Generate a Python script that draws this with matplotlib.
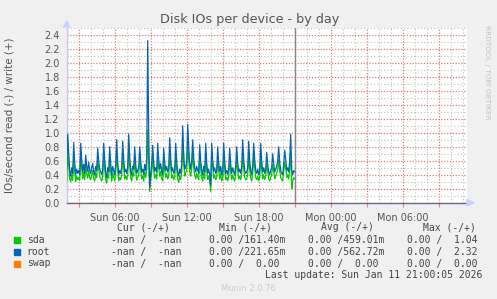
import numpy as np
import matplotlib
matplotlib.use("Agg")
import matplotlib.pyplot as plt
from matplotlib.patches import Rectangle, Polygon
from matplotlib.ticker import MultipleLocator, FixedLocator

# hours since Sun 00:00, one sample every 5 minutes from 02:00 to 21:00
START_HOUR = 2.0
STEP_HOURS = 5 / 60

# write IOs/s (read side is zero over the whole period)
sda = [
    0.30, 0.75, 0.55, 0.34, 0.30, 0.40, 0.32, 0.62, 0.45, 0.30, 0.38, 0.33,
    0.36, 0.32, 0.65, 0.50, 0.34, 0.44, 0.33, 0.55, 0.42, 0.35, 0.46, 0.36,
    0.33, 0.40, 0.46, 0.35, 0.31, 0.42, 0.36, 0.62, 0.48, 0.38, 0.34, 0.31,
    0.38, 0.66, 0.50, 0.33, 0.28, 0.40, 0.35, 0.64, 0.45, 0.31, 0.42, 0.36,
    0.31, 0.44, 0.70, 0.47, 0.31, 0.36, 0.33, 0.40, 0.68, 0.50, 0.34, 0.38,
    0.33, 0.40, 0.76, 0.53, 0.35, 0.31, 0.42, 0.38, 0.62, 0.44, 0.32, 0.36,
    0.40, 0.62, 0.48, 0.34, 0.38, 0.31, 0.44, 0.36, 0.48, 1.04, 0.60, 0.16,
    0.33, 0.44, 0.64, 0.46, 0.35, 0.40, 0.34, 0.66, 0.50, 0.38, 0.45, 0.34,
    0.31, 0.60, 0.46, 0.36, 0.42, 0.34, 0.38, 0.72, 0.52, 0.35, 0.40, 0.33,
    0.36, 0.66, 0.48, 0.34, 0.29, 0.38, 0.33, 0.44, 0.85, 0.56, 0.38, 0.42,
    0.47, 0.86, 0.62, 0.45, 0.38, 0.48, 0.70, 0.51, 0.40, 0.34, 0.42, 0.36,
    0.33, 0.64, 0.48, 0.36, 0.31, 0.42, 0.34, 0.66, 0.46, 0.33, 0.38, 0.31,
    0.16, 0.66, 0.50, 0.35, 0.40, 0.33, 0.36, 0.62, 0.46, 0.34, 0.42, 0.31,
    0.34, 0.66, 0.48, 0.33, 0.36, 0.31, 0.38, 0.60, 0.44, 0.33, 0.40, 0.34,
    0.31, 0.42, 0.62, 0.46, 0.34, 0.38, 0.33, 0.40, 0.70, 0.50, 0.36, 0.33,
    0.34, 0.40, 0.68, 0.48, 0.35, 0.31, 0.42, 0.66, 0.50, 0.36, 0.33, 0.38,
    0.31, 0.36, 0.66, 0.48, 0.34, 0.40, 0.33, 0.38, 0.56, 0.44, 0.34, 0.31,
    0.36, 0.40, 0.55, 0.45, 0.34, 0.38, 0.42, 0.48, 0.62, 0.46, 0.36, 0.33,
    0.31, 0.44, 0.58, 0.50, 0.36, 0.40, 0.34, 0.48, 0.72, 0.20, 0.31, 0.36,
    0.34,
]
root = [
    0.50, 0.98, 0.72, 0.45, 0.38, 0.50, 0.42, 0.86, 0.58, 0.40, 0.48, 0.42,
    0.46, 0.40, 0.85, 0.62, 0.44, 0.55, 0.42, 0.68, 0.52, 0.45, 0.58, 0.46,
    0.42, 0.50, 0.56, 0.44, 0.40, 0.52, 0.46, 0.78, 0.60, 0.48, 0.44, 0.40,
    0.48, 0.85, 0.62, 0.42, 0.36, 0.50, 0.44, 0.80, 0.56, 0.40, 0.52, 0.46,
    0.40, 0.55, 0.90, 0.58, 0.40, 0.46, 0.42, 0.50, 0.88, 0.62, 0.44, 0.48,
    0.42, 0.50, 0.98, 0.66, 0.45, 0.40, 0.52, 0.48, 0.80, 0.55, 0.42, 0.46,
    0.50, 0.80, 0.60, 0.44, 0.48, 0.40, 0.55, 0.46, 0.60, 2.32, 1.00, 0.22,
    0.42, 0.55, 0.82, 0.58, 0.45, 0.50, 0.44, 0.85, 0.62, 0.48, 0.56, 0.44,
    0.40, 0.78, 0.58, 0.46, 0.52, 0.44, 0.48, 0.93, 0.64, 0.45, 0.50, 0.42,
    0.46, 0.85, 0.60, 0.44, 0.38, 0.48, 0.42, 0.55, 1.10, 0.70, 0.48, 0.52,
    0.58, 1.12, 0.80, 0.56, 0.48, 0.60, 0.90, 0.64, 0.50, 0.44, 0.52, 0.46,
    0.42, 0.83, 0.60, 0.46, 0.40, 0.52, 0.44, 0.85, 0.58, 0.42, 0.48, 0.40,
    0.25, 0.85, 0.62, 0.45, 0.50, 0.42, 0.46, 0.80, 0.58, 0.44, 0.52, 0.40,
    0.44, 0.85, 0.60, 0.42, 0.46, 0.40, 0.48, 0.78, 0.56, 0.42, 0.50, 0.44,
    0.40, 0.52, 0.80, 0.58, 0.44, 0.48, 0.42, 0.50, 0.90, 0.62, 0.46, 0.42,
    0.44, 0.50, 0.88, 0.60, 0.45, 0.40, 0.52, 0.85, 0.62, 0.46, 0.42, 0.48,
    0.40, 0.46, 0.85, 0.60, 0.44, 0.50, 0.42, 0.48, 0.72, 0.55, 0.44, 0.40,
    0.46, 0.50, 0.70, 0.56, 0.44, 0.48, 0.52, 0.60, 0.80, 0.58, 0.46, 0.42,
    0.40, 0.55, 0.75, 0.62, 0.46, 0.50, 0.44, 0.60, 0.98, 0.48, 0.40, 0.46,
    0.44,
]
swap = [0.0] * len(root)

series_names = ["sda", "root", "swap"]
series_colors = ["#00cc00", "#0066b3", "#ff8000"]

legend_cur = ["-nan /  -nan", "-nan /  -nan", "-nan /  -nan"]
legend_min = ["0.00 /161.40m", "0.00 /221.65m", "0.00 /  0.00"]
legend_avg = ["0.00 /459.01m", "0.00 /562.72m", "0.00 /  0.00"]
legend_max = ["0.00 /  1.04", "0.00 /  2.32", "0.00 /  0.00"]

xtick_pos = [6, 12, 18, 24, 30]
xtick_labels = ["Sun 06:00", "Sun 12:00", "Sun 18:00", "Mon 00:00", "Mon 06:00"]
NOW_HOUR = 21.0

W, H = 497, 299
BG = "#f0f0f0"
TXT = "#444444"


def fx(px):
    return px / W


def fy(py):
    return 1 - py / H


fig = plt.figure(figsize=(W / 100, H / 100), dpi=100, facecolor=BG)
x0, x1, y0, y1 = 66.7, 467.0, 28.0, 202.7
ax = fig.add_axes([fx(x0), fy(y1), fx(x1 - x0), (y1 - y0) / H])
ax.set_facecolor("white")

hours = START_HOUR + STEP_HOURS * np.arange(len(root))
for name, col, vals in zip(series_names, series_colors, [sda, root, swap]):
    ax.plot(hours, vals, color=col, lw=0.9, zorder=3)

ax.axvline(NOW_HOUR, color="#888888", lw=1.0, zorder=4)

ax.set_xlim(START_HOUR, START_HOUR + (x1 - x0) / 12)
ax.set_ylim(0, 2.5)

# grid: red major, grey minor
ax.xaxis.set_major_locator(MultipleLocator(3))
ax.xaxis.set_minor_locator(MultipleLocator(1))
ax.yaxis.set_major_locator(FixedLocator(np.round(np.arange(0, 2.41, 0.2), 1)))
ax.yaxis.set_minor_locator(MultipleLocator(0.1))
ax.set_xticklabels([])
ax.set_yticklabels([f"{v:.1f}" for v in np.arange(0, 2.41, 0.2)])
ax.grid(which="minor", color="#c0c0c0", lw=0.8, ls=(0, (1, 2)))
ax.grid(which="major", color="#e87878", lw=0.9, ls=(0, (1, 1.3)))
ax.set_axisbelow(True)

ax.tick_params(axis="x", which="major", length=3, color="#f08080", width=0.8,
               labelbottom=False)
ax.tick_params(axis="both", which="minor", length=0)
ax.tick_params(axis="y", which="major", length=0, pad=5, labelsize=7,
               labelcolor="#555555")

for pos, lab in zip(xtick_pos, xtick_labels):
    ax.text(pos, -0.06, lab, transform=ax.get_xaxis_transform(), ha="center",
            va="top", fontsize=7, color="#555555")

for side in ["top", "right"]:
    ax.spines[side].set_visible(False)
ax.spines["left"].set_color("#c8c8f0")
ax.spines["bottom"].set_color("#6a6a88")
ax.spines["left"].set_linewidth(1.0)
ax.spines["bottom"].set_linewidth(1.0)

# axis arrows
fig.patches.append(Polygon([[fx(63.5), fy(27)], [fx(70), fy(27)], [fx(66.7), fy(21)]],
                           closed=True, color="#c8d0ff", transform=fig.transFigure))
fig.patches.append(Polygon([[fx(467), fy(199.5)], [fx(467), fy(206)], [fx(474), fy(202.7)]],
                           closed=True, color="#c8d0ff", transform=fig.transFigure))

fig.text(fx(250), fy(19), "Disk IOs per device - by day", ha="center", va="center",
         fontsize=9.2, color="#555555")
fig.text(fx(10), fy(115), "IOs/second read (-) / write (+)", rotation=90,
         ha="center", va="center", fontsize=7.5, color="#555555")
fig.text(fx(487), fy(25), "RRDTOOL / TOBI OETIKER", rotation=270, ha="center",
         va="top", fontsize=5.3, color="#c4c4c4")

mono = dict(family="DejaVu Sans Mono", fontsize=7, color=TXT, va="center")
fig.text(fx(116.7), fy(227.3), "Cur (-/+)", **mono)
fig.text(fx(219), fy(227.3), "Min (-/+)", **mono)
fig.text(fx(321), fy(227.3), "Avg (-/+)", **mono)
fig.text(fx(422.7), fy(227.3), "Max (-/+)", **mono)

rows_y = [240, 251.7, 263.5]
for i, name in enumerate(series_names):
    yy = rows_y[i]
    fig.patches.append(Rectangle((fx(14), fy(yy + 3)), fx(6), 6 / H,
                                 color=series_colors[i], transform=fig.transFigure))
    fig.text(fx(26.7), fy(yy), name, **mono)
    fig.text(fx(110.7), fy(yy), legend_cur[i], **mono)
    fig.text(fx(209.3), fy(yy), legend_min[i], **mono)
    fig.text(fx(308.3), fy(yy), legend_avg[i], **mono)
    fig.text(fx(407.3), fy(yy), legend_max[i], **mono)

fig.text(fx(482.5), fy(275.5), "Last update: Sun Jan 11 21:00:05 2026", ha="right",
         **mono)
fig.text(fx(248), fy(288.5), "Munin 2.0.76", ha="center", va="center",
         fontsize=6, color="#cccccc")

fig.savefig("out.png", dpi=100, facecolor=BG)
